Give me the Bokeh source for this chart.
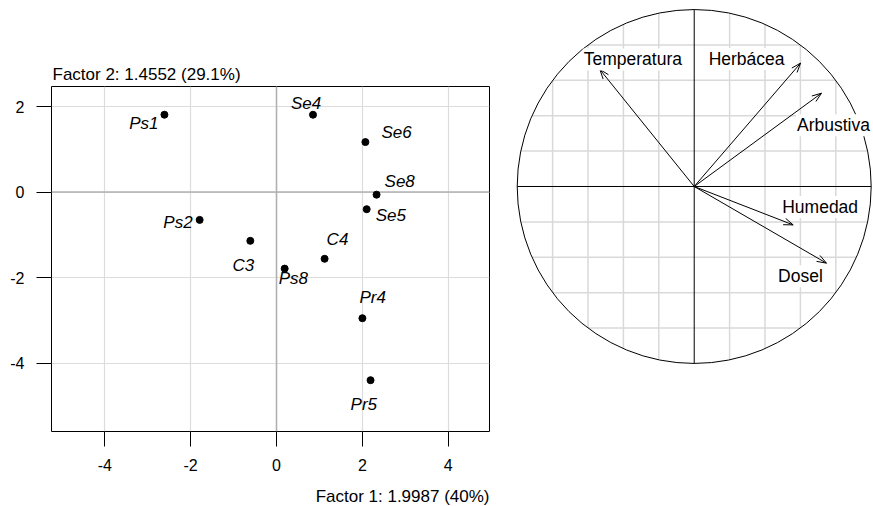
import numpy as np
from bokeh.plotting import figure
from bokeh.layouts import row
from bokeh.models import Title, FixedTicker, Span
from bokeh.core.properties import value
from bokeh.embed import file_html
from bokeh.resources import INLINE

# ---------------- data ----------------
sites = ["Ps1", "Ps2", "C3", "Ps8", "Se4", "Se6", "Se8", "Se5", "C4", "Pr4", "Pr5"]
factor1 = [-2.61, -1.79, -0.61, 0.19, 0.85, 2.07, 2.33, 2.10, 1.12, 2.00, 2.19]
factor2 = [1.81, -0.65, -1.14, -1.79, 1.81, 1.17, -0.06, -0.40, -1.56, -2.95, -4.40]
x_ticks = [-4, -2, 0, 2, 4]
y_ticks = [-4, -2, 0, 2]
x_title = "Factor 1: 1.9987 (40%)"
y_title = "Factor 2: 1.4552 (29.1%)"

variables = ["Temperatura", "Herbácea", "Arbustiva", "Humedad", "Dosel"]
corr1 = [-0.533, 0.601, 0.719, 0.559, 0.747]
corr2 = [0.661, 0.697, 0.527, -0.217, -0.433]
grid_steps = [-0.8, -0.6, -0.4, -0.2, 0.2, 0.4, 0.6, 0.8]

# ---------------- styling (label placement in px) ----------------
site_align = ["right", "right", "center", "left", "center", "left", "left", "left", "left", "left", "left"]
site_dx = [-6, -7, -7, -6, -7, 16, 8, 9, 2, -3, -20]
site_dy = [9, 3, 25, 10, -11, -10, -13, 6, -19, -21, 24]
var_dx = [33, -54, 12, 27, -26]
var_dy = [-10, -4, 32, -18, 13]

FONT = "Liberation Sans"

# ---------------- left panel ----------------
xr = (-5.24, 4.96)
yr = (-5.60, 2.47)
p = figure(frame_width=438, frame_height=345, x_range=xr, y_range=yr,
           output_backend="svg", toolbar_location=None, frame_align=False,
           min_border_left=51, min_border_right=19,
           min_border_top=86, min_border_bottom=75)
p.xaxis.ticker = FixedTicker(ticks=x_ticks)
p.yaxis.ticker = FixedTicker(ticks=y_ticks)
p.xaxis.major_label_overrides = {t: str(t) for t in x_ticks}
p.yaxis.major_label_overrides = {t: str(t) for t in y_ticks}
p.xgrid.ticker = FixedTicker(ticks=x_ticks)
p.ygrid.ticker = FixedTicker(ticks=y_ticks)
p.grid.grid_line_color = "#dcdcdc"
p.grid.grid_line_width = 1.2
p.outline_line_color = "black"
p.outline_line_width = 1
p.outline_line_alpha = 1
for ax in (p.xaxis[0], p.yaxis[0]):
    ax.axis_line_color = None
    ax.major_tick_line_color = "black"
    ax.major_tick_line_width = 1
    ax.major_tick_out = 15
    ax.major_tick_in = 0
    ax.minor_tick_line_color = None
    ax.major_label_text_font = FONT
    ax.major_label_text_font_size = "16px"
    ax.major_label_text_color = "black"
p.xaxis.major_label_standoff = 12
p.yaxis.major_label_standoff = 12
# invisible spacer label to push the bottom title down
p.xaxis.axis_label = " "
p.xaxis.axis_label_text_font_size = "6px"
p.xaxis.axis_label_standoff = 1

p.add_layout(Span(location=0, dimension="height", line_color="#b0b0b0", line_width=1.5, level="underlay"))
p.add_layout(Span(location=0, dimension="width", line_color="#b0b0b0", line_width=1.5, level="underlay"))

p.scatter(x=factor1, y=factor2, size=7, color="black")

for al in ("left", "center", "right"):
    idx = [i for i, a in enumerate(site_align) if a == al]
    p.text(x=[factor1[i] for i in idx], y=[factor2[i] for i in idx],
           text=[sites[i] for i in idx],
           x_offset=[site_dx[i] for i in idx], y_offset=[site_dy[i] for i in idx],
           text_align=al, text_baseline="middle",
           text_font=value(FONT), text_font_style="italic",
           text_font_size="17px", text_color="black")

p.add_layout(Title(text=y_title, align="left", offset=1, standoff=5,
                   text_font=FONT, text_font_size="17px", text_font_style="normal",
                   text_color="black"), "above")
p.add_layout(Title(text=x_title, align="right", offset=0, standoff=2,
                   text_font=FONT, text_font_size="17px", text_font_style="normal",
                   text_color="black"), "below")

# ---------------- right panel (correlation circle) ----------------
R_PX = 177.0
q = figure(width=365, height=506, x_range=(-1.0492, 1.0130), y_range=(-1.8079, 1.0508),
           output_backend="svg", toolbar_location=None, frame_align=False,
           x_axis_location=None, y_axis_location=None,
           min_border=0, outline_line_color=None)
q.grid.visible = False

g = np.array(grid_steps)
h = np.sqrt(1 - g ** 2)
q.segment(x0=g, y0=-h, x1=g, y1=h, line_color="#d9d9d9", line_width=1.5)
q.segment(x0=-h, y0=g, x1=h, y1=g, line_color="#d9d9d9", line_width=1.5)
q.circle(x=[0], y=[0], radius=1, fill_color=None, line_color="black", line_width=1)
q.segment(x0=[-1, 0], y0=[0, -1], x1=[1, 0], y1=[0, 1], line_color="black", line_width=1)

vx = np.array(corr1)
vy = np.array(corr2)
q.segment(x0=np.zeros_like(vx), y0=np.zeros_like(vy), x1=vx, y1=vy, line_color="black", line_width=1)
theta = np.arctan2(vy, vx)
L = 10.0 / R_PX
phi = np.deg2rad(20)
for s in (1, -1):
    q.segment(x0=vx, y0=vy, x1=vx - L * np.cos(theta + s * phi), y1=vy - L * np.sin(theta + s * phi),
              line_color="black", line_width=1)

q.text(x=vx, y=vy, text=variables, x_offset=var_dx, y_offset=var_dy,
       text_align="center", text_baseline="middle",
       text_font=value(FONT), text_font_size="17.5px", text_color="black",
       background_fill_color="white", padding=1)

layout = row(p, q)
open("out.html", "w").write(file_html(layout, INLINE))
